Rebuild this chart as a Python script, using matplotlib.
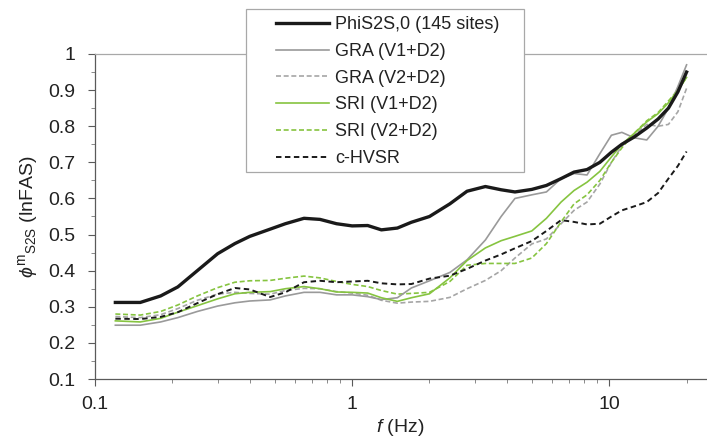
import matplotlib
matplotlib.use('Agg')
import matplotlib.pyplot as plt
from matplotlib.patches import Rectangle
from matplotlib.ticker import FixedLocator, NullFormatter

plt.rcParams['font.family'] = ['Liberation Sans', 'DejaVu Sans']
plt.rcParams['mathtext.fontset'] = 'custom'
plt.rcParams['mathtext.rm'] = 'Liberation Sans'
plt.rcParams['mathtext.it'] = 'Liberation Sans:italic'
plt.rcParams['mathtext.fallback'] = 'stixsans'

# Frequencies (Hz) where the curves were read
freq = [0.12, 0.15, 0.18, 0.21, 0.25, 0.3, 0.35, 0.4, 0.48, 0.55, 0.65, 0.75,
        0.87, 1.0, 1.15, 1.3, 1.5, 1.7, 2.0, 2.4, 2.8, 3.3, 3.8, 4.3, 5.0, 5.7,
        6.5, 7.3, 8.2, 9.2, 10.2, 11.2, 12.5, 14, 15.5, 17, 18.5, 20]

phi_s2s = [0.312, 0.312, 0.33, 0.355, 0.40, 0.447, 0.475, 0.495, 0.515, 0.53,
           0.545, 0.542, 0.53, 0.524, 0.525, 0.513, 0.518, 0.534, 0.55, 0.585,
           0.62, 0.633, 0.624, 0.618, 0.625, 0.636, 0.655, 0.673, 0.68, 0.70,
           0.728, 0.75, 0.77, 0.795, 0.82, 0.85, 0.895, 0.95]

gra_v1 = [0.249, 0.249, 0.258, 0.27, 0.287, 0.302, 0.311, 0.316, 0.319, 0.33,
          0.34, 0.34, 0.333, 0.333, 0.328, 0.32, 0.325, 0.352, 0.372, 0.395,
          0.43, 0.485, 0.55, 0.60, 0.61, 0.618, 0.655, 0.669, 0.665, 0.724,
          0.775, 0.783, 0.768, 0.762, 0.80, 0.85, 0.91, 0.97]

gra_v2 = [0.273, 0.270, 0.278, 0.295, 0.318, 0.335, 0.34, 0.337, 0.335, 0.345,
          0.351, 0.35, 0.342, 0.338, 0.332, 0.318, 0.31, 0.313, 0.315, 0.326,
          0.35, 0.373, 0.40, 0.435, 0.474, 0.488, 0.53, 0.567, 0.59, 0.64,
          0.70, 0.745, 0.775, 0.805, 0.80, 0.805, 0.84, 0.905]

sri_v1 = [0.261, 0.258, 0.268, 0.285, 0.303, 0.322, 0.336, 0.34, 0.342, 0.35,
          0.356, 0.35, 0.341, 0.34, 0.338, 0.325, 0.315, 0.325, 0.336, 0.38,
          0.428, 0.463, 0.483, 0.495, 0.51, 0.545, 0.59, 0.622, 0.645, 0.675,
          0.715, 0.75, 0.78, 0.812, 0.835, 0.865, 0.90, 0.935]

sri_v2 = [0.28, 0.277, 0.287, 0.305, 0.33, 0.353, 0.368, 0.372, 0.373, 0.379,
          0.385, 0.38, 0.37, 0.362, 0.356, 0.345, 0.335, 0.337, 0.34, 0.37,
          0.415, 0.42, 0.42, 0.42, 0.435, 0.475, 0.535, 0.585, 0.61, 0.65,
          0.70, 0.74, 0.78, 0.815, 0.838, 0.87, 0.90, 0.935]

c_hvsr = [0.267, 0.266, 0.272, 0.285, 0.31, 0.335, 0.352, 0.348, 0.327, 0.34,
          0.368, 0.372, 0.368, 0.37, 0.372, 0.365, 0.362, 0.363, 0.378, 0.386,
          0.405, 0.428, 0.445, 0.462, 0.482, 0.51, 0.54, 0.535, 0.528, 0.53,
          0.55, 0.567, 0.578, 0.59, 0.615, 0.655, 0.69, 0.73]

labels = ['PhiS2S,0 (145 sites)', 'GRA (V1+D2)', 'GRA (V2+D2)',
          'SRI (V1+D2)', 'SRI (V2+D2)', 'c-HVSR']

green = '#86c440'
text_c = '#222222'
W, H = 707, 442

fig = plt.figure(figsize=(7.07, 4.42), dpi=100)
ax = fig.add_axes([95 / W, 1 - 379 / H, 611 / W, 325 / H])

l1, = ax.plot(freq, phi_s2s, color='#1a1a1a', lw=2.4, zorder=6)
l2, = ax.plot(freq, gra_v1, color='#9a9a9a', lw=1.2, zorder=5)
l3, = ax.plot(freq, gra_v2, color='#a6a6a6', lw=1.2, dashes=(3, 1.6), zorder=4)
l4, = ax.plot(freq, sri_v1, color=green, lw=1.2, zorder=5)
l5, = ax.plot(freq, sri_v2, color=green, lw=1.2, dashes=(3, 1.6), zorder=4)
l6, = ax.plot(freq, c_hvsr, color='#1a1a1a', lw=1.4, dashes=(2.8, 1.8), zorder=5)

ax.set_xscale('log')
ax.set_xlim(0.1, 23.8)
ax.set_ylim(0.1, 1.0)

ax.xaxis.set_major_locator(FixedLocator([0.1, 1, 10]))
ax.set_xticklabels(['0.1', '1', '10'])
minor_x = [m * d for d in (0.1, 1, 10) for m in range(2, 10)]
ax.xaxis.set_minor_locator(FixedLocator(minor_x))
ax.xaxis.set_minor_formatter(NullFormatter())

yt = [round(0.1 * i, 1) for i in range(1, 11)]
ax.yaxis.set_major_locator(FixedLocator(yt))
ax.set_yticklabels(['0.1', '0.2', '0.3', '0.4', '0.5', '0.6', '0.7', '0.8', '0.9', '1'])
ax.yaxis.set_minor_locator(FixedLocator([v + 0.05 for v in yt[:-1]]))

spine_c = '#5a5a5a'
for s in ('left', 'bottom'):
    ax.spines[s].set_color(spine_c)
    ax.spines[s].set_linewidth(0.9)
ax.spines['top'].set_color('#a8a8a8')
ax.spines['top'].set_linewidth(0.9)
ax.spines['right'].set_visible(False)

ax.tick_params(which='major', direction='out', length=5, width=0.8,
               color=spine_c, labelsize=14, labelcolor=text_c)
ax.tick_params(which='minor', direction='out', length=3, width=0.7, color='#8a8a8a')
ax.tick_params(axis='y', which='major', pad=9)
ax.tick_params(axis='x', which='major', pad=7)

ax.set_xlabel(r'$f$ (Hz)', fontsize=14, color=text_c, labelpad=3)
ax.set_ylabel(r'$\phi^{\mathrm{m}}{}_{\mathrm{S2S}}$ (lnFAS)', fontsize=14,
              color=text_c, labelpad=6)

# legend box drawn separately so the padding can match the original
fig.patches.append(Rectangle((246 / W, 1 - 172 / H), 278 / W, 163 / H,
                             transform=fig.transFigure, facecolor='white',
                             edgecolor='#a8a8a8', linewidth=0.9, zorder=9))
leg = fig.legend([l1, l2, l3, l4, l5, l6], labels,
                 loc='upper left', bbox_to_anchor=(269 / W, 1 - 9 / H),
                 fontsize=13, frameon=False,
                 handlelength=2.9, handletextpad=0.35, labelspacing=0.54,
                 borderpad=0.4, borderaxespad=0)
leg.set_zorder(10)
for t in leg.get_texts():
    t.set_color(text_c)

fig.savefig('out.png', dpi=100)
